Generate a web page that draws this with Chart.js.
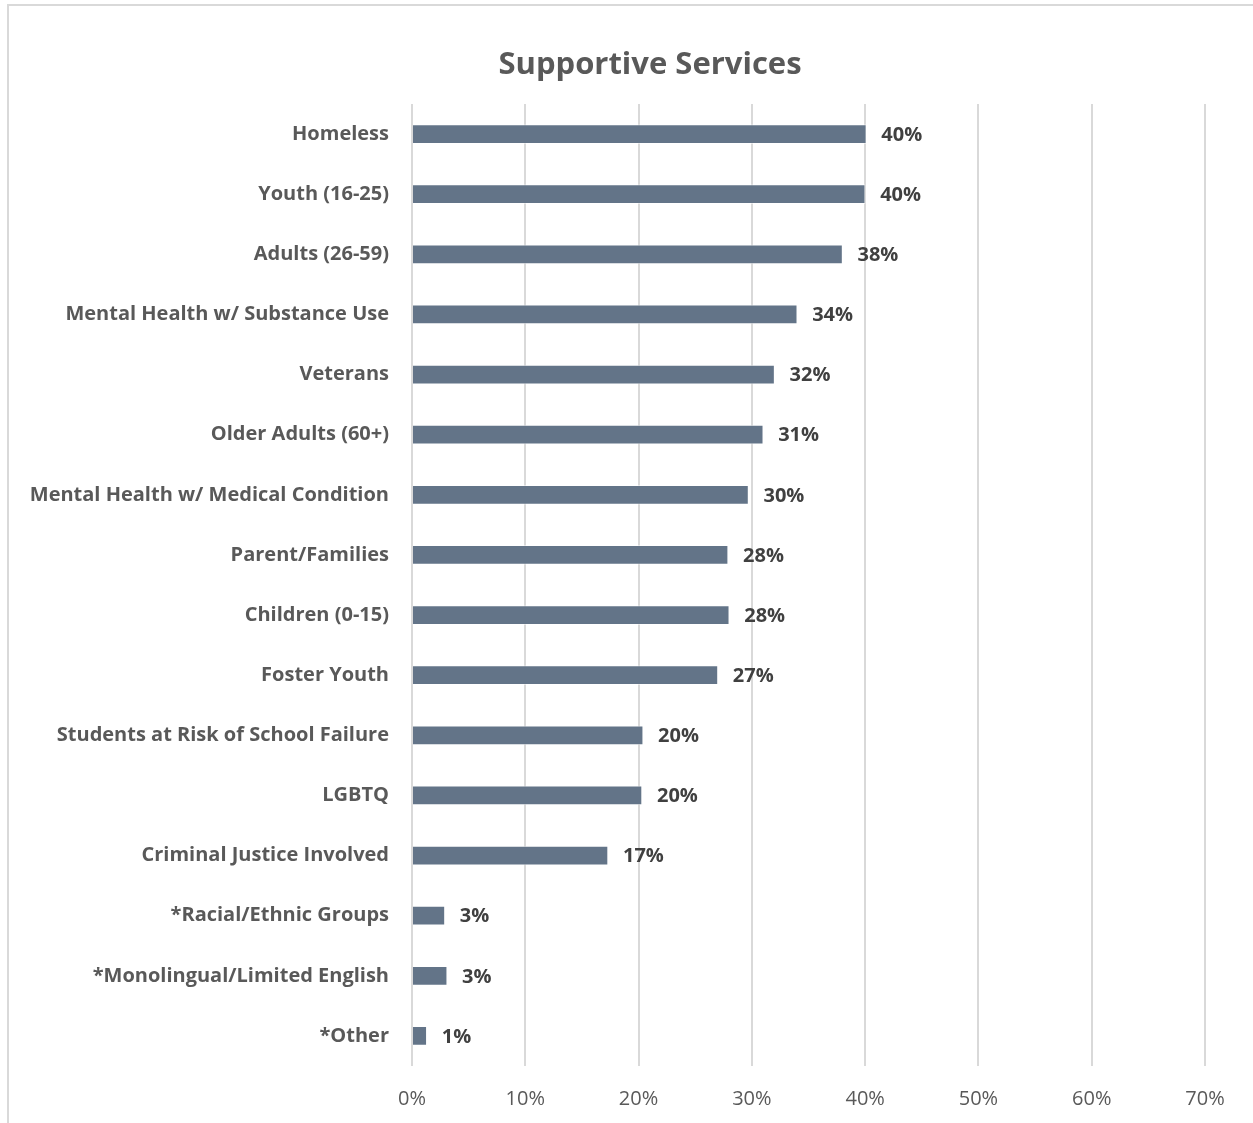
<!DOCTYPE html>
<html>
<head>
<meta charset="utf-8">
<script src="https://cdn.jsdelivr.net/npm/chart.js@4/dist/chart.umd.min.js"></script>
<style>
  html, body { margin: 0; padding: 0; background: #fff; overflow: hidden; }
  #frame {
    position: absolute; left: 7px; top: 4px; width: 1260px; height: 1140px;
    border-left: 2px solid #d9d9d9; border-top: 2px solid #d9d9d9;
  }
  #wrap { position: absolute; left: 0; top: 0; width: 1253px; height: 1123px; }
</style>
</head>
<body>
<div id="frame"></div>
<div id="wrap"><canvas id="servicesChart"></canvas></div>
<script>
// Supportive services by population served (share of programs, %)
const categories = [
  'Homeless',
  'Youth (16-25)',
  'Adults (26-59)',
  'Mental Health w/ Substance Use',
  'Veterans',
  'Older Adults (60+)',
  'Mental Health w/ Medical Condition',
  'Parent/Families',
  'Children (0-15)',
  'Foster Youth',
  'Students at Risk of School Failure',
  'LGBTQ',
  'Criminal Justice Involved',
  '*Racial/Ethnic Groups',
  '*Monolingual/Limited English',
  '*Other'
];
const shares = [40.1, 40.0, 38.0, 34.0, 32.0, 31.0, 29.7, 27.9, 28.0, 27.0, 20.4, 20.3, 17.3, 2.9, 3.1, 1.3];
const xTicks = [0, 10, 20, 30, 40, 50, 60, 70];
const chartTitle = 'Supportive Services';

const FONT = '"Open Sans", sans-serif';

// value labels just past the end of each bar
const barValueLabels = {
  id: 'barValueLabels',
  afterDatasetsDraw(chart) {
    const ctx = chart.ctx;
    const meta = chart.getDatasetMeta(0);
    ctx.save();
    ctx.font = 'bold 20px ' + FONT;
    ctx.fillStyle = '#404040';
    ctx.textAlign = 'left';
    ctx.textBaseline = 'middle';
    meta.data.forEach((bar, i) => {
      ctx.fillText(Math.round(shares[i]) + '%', bar.x + 15, bar.y + 1);
    });
    ctx.restore();
  }
};

// title sits a bit right of the canvas centre, so draw it by hand
const centredTitle = {
  id: 'centredTitle',
  afterDraw(chart) {
    const ctx = chart.ctx;
    ctx.save();
    ctx.font = 'bold 31px ' + FONT;
    ctx.fillStyle = '#595959';
    ctx.textAlign = 'center';
    ctx.textBaseline = 'middle';
    ctx.fillText(chartTitle, 650, 65);
    ctx.restore();
  }
};

new Chart(document.getElementById('servicesChart'), {
  type: 'bar',
  data: {
    labels: categories,
    datasets: [{
      data: shares,
      backgroundColor: '#637488',
      borderColor: 'rgba(255,255,255,0.5)',
      borderWidth: 1,
      barThickness: 19
    }]
  },
  options: {
    indexAxis: 'y',
    responsive: true,
    maintainAspectRatio: false,
    animation: false,
    layout: { padding: { left: 0, right: 48, top: 104, bottom: 0 } },
    plugins: {
      legend: { display: false },
      tooltip: { enabled: false },
      title: { display: false }
    },
    scales: {
      x: {
        min: 0,
        max: 70,
        afterBuildTicks(scale) { scale.ticks = xTicks.map(v => ({ value: v })); },
        afterFit(scale) { scale.height = 57; },
        border: { display: false },
        grid: { color: '#d9d9d9', lineWidth: 2, drawTicks: false },
        ticks: {
          padding: 21,
          color: '#595959',
          font: { family: FONT, size: 20 },
          callback: v => v + '%'
        }
      },
      y: {
        afterFit(scale) { scale.width = 412; },
        border: { display: false },
        grid: { display: false, drawTicks: false },
        ticks: {
          padding: 23,
          color: '#595959',
          font: { family: FONT, size: 20, weight: 'bold' }
        }
      }
    }
  },
  plugins: [barValueLabels, centredTitle]
});
</script>
</body>
</html>
